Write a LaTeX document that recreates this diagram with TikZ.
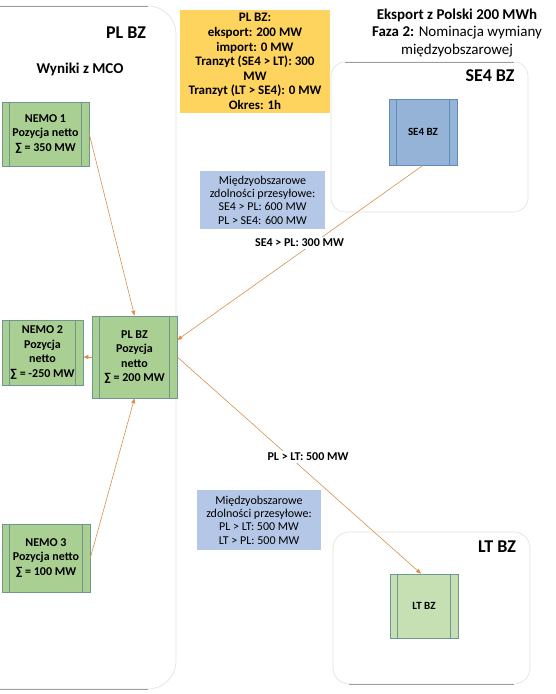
\documentclass[tikz,border=0pt]{standalone}
\usepackage{fontspec}
\setmainfont{Carlito}
\usetikzlibrary{arrows.meta}
\definecolor{zonegreen}{HTML}{A9CF92}
\definecolor{ltgreen}{HTML}{C6E0B4}
\definecolor{se4blue}{HTML}{95B3D7}
\definecolor{se4line}{HTML}{5E8DBE}
\definecolor{capblue}{HTML}{B4C7E7}
\definecolor{sumyellow}{HTML}{FFD45E}
\definecolor{flowor}{HTML}{DB8F4E}
\definecolor{boxline}{HTML}{6F9790}
\begin{document}
\begin{tikzpicture}[x=1pt, y=-1pt,
zone/.style={draw=gray!25, line width=0.6pt, rounded corners=#1},
zoneedge/.style={draw=gray!75, line width=0.7pt},
proc/.style n args={2}{rectangle, fill=#1, draw=#2, line width=0.6pt, inner sep=0pt, align=center,
  font=\bfseries\fontsize{12}{14.5}\selectfont,
  path picture={\draw[#2, line width=0.6pt]
    ([xshift=7.5pt]path picture bounding box.north west) -- ([xshift=7.5pt]path picture bounding box.south west)
    ([xshift=-7.5pt]path picture bounding box.north east) -- ([xshift=-7.5pt]path picture bounding box.south east);}},
info/.style={rectangle, fill=capblue, inner sep=0pt, align=center, font=\fontsize{12}{13.4}\selectfont},
zonetitle/.style={font=\bfseries\fontsize{18}{20}\selectfont},
flow/.style={draw=flowor, line width=0.6pt, -{Triangle[length=5pt, width=4pt]}},
flowlabel/.style={fill=white, inner sep=2pt, font=\bfseries\fontsize{12}{14}\selectfont},
]
\useasboundingbox (0,0) rectangle (556,694);
\clip (0,0) rectangle (556,694);

\draw[zone=28] (-40,6) rectangle (176,689);
\draw[zoneedge] (-40,6) -- (148,6) (-40,689) -- (148,689);
\draw[zone=14] (331,62) rectangle (528,212);
\draw[zoneedge] (345,62) -- (514,62);
\draw[zone=16] (333,532) rectangle (530,684);
\draw[zoneedge] (349,684) -- (514,684);

\node[zonetitle] (pltitle) at (126,33) {PL BZ};
\node[font=\bfseries\fontsize{15}{17}\selectfont] (mco) at (80,69) {Wyniki z MCO};
\node[zonetitle] (se4title) at (490,76) {SE4 BZ};
\node[zonetitle] (lttitle) at (497,547) {LT BZ};
\node[align=center, font=\fontsize{15}{17.5}\selectfont] (header) at (457,33)
  {\textbf{Eksport z Polski 200 MWh}\\ \textbf{Faza 2:} Nominacja wymiany\\ międzyobszarowej};

\node[rectangle, fill=sumyellow, minimum width=150pt, minimum height=103pt, inner sep=0pt,
  align=center, font=\bfseries\fontsize{13}{14.6}\selectfont] (summary) at (255,61.5)
  {PL BZ:\\ eksport: 200 MW\\ import: 0 MW\\ Tranzyt (SE4 > LT): 300\\ MW\\ Tranzyt (LT > SE4): 0 MW\\ Okres: 1h};

\node[proc={zonegreen}{boxline}, minimum width=87pt, minimum height=64pt] (nemo1) at (45.5,134)
  {NEMO 1\\ Pozycja netto\\ ∑ = 350 MW};
\node[proc={zonegreen}{boxline}, minimum width=81pt, minimum height=65pt] (nemo2) at (42.5,352.5)
  {NEMO 2\\ Pozycja\\ netto\\ ∑ = -250 MW};
\node[proc={zonegreen}{boxline}, minimum width=85pt, minimum height=82pt] (plbz) at (134.5,357)
  {PL BZ\\ Pozycja\\ netto\\ ∑ = 200 MW};
\node[proc={zonegreen}{boxline}, minimum width=88pt, minimum height=68pt] (nemo3) at (46,558)
  {NEMO 3\\ Pozycja netto\\ ∑ = 100 MW};
\node[proc={se4blue}{se4line}, minimum width=68pt, minimum height=66pt,
  font=\bfseries\fontsize{11}{13}\selectfont] (se4) at (423,132) {SE4 BZ};
\node[proc={ltgreen}{boxline}, minimum width=68pt, minimum height=64pt,
  font=\bfseries\fontsize{11}{13}\selectfont] (ltbz) at (424,606) {LT BZ};

\node[info, minimum width=125pt, minimum height=58pt] (cap1) at (262.5,200)
  {Międzyobszarowe\\ zdolności przesyłowe:\\ SE4 > PL: 600 MW\\ PL > SE4: 600 MW};
\node[info, minimum width=124pt, minimum height=60pt] (cap2) at (259,520)
  {Międzyobszarowe\\ zdolności przesyłowe:\\ PL > LT: 500 MW\\ LT > PL: 500 MW};

\draw[flow] (nemo1.east) -- (plbz.north);
\draw[flow] (nemo3.east) -- (plbz.south);
\draw[flow] (plbz.west) -- (plbz.west -| nemo2.east);
\draw[flow] (se4.south) -- ([yshift=17pt]plbz.east);
\draw[flow] (plbz.east) -- ([xshift=-3pt]ltbz.north);

\node[flowlabel] (se4pl) at (299.5,243) {SE4 > PL: 300 MW};
\node[flowlabel] (pllt) at (308,457) {PL > LT: 500 MW};
\end{tikzpicture}
\end{document}
